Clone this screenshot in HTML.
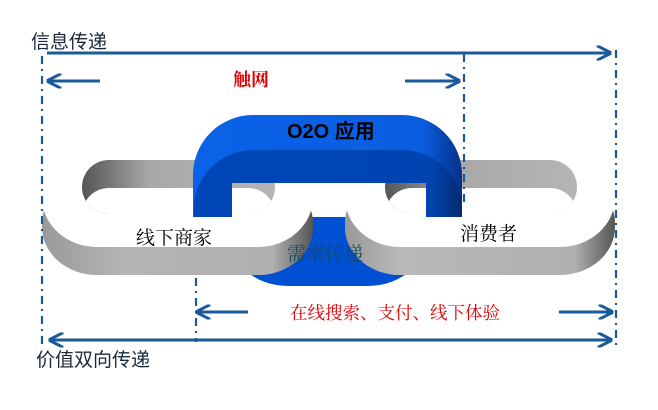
<!DOCTYPE html>
<html><head><meta charset="utf-8"><style>
html,body{margin:0;padding:0;background:#fff;}
svg{display:block;}
text{font-family:"Liberation Sans","Noto Sans CJK SC",sans-serif;}
.s{font-family:"Liberation Serif","Noto Serif CJK SC",serif;}
</style></head><body>
<svg width="658" height="410" viewBox="0 0 658 410" xmlns="http://www.w3.org/2000/svg">
<defs>
<marker id="ah" viewBox="0 0 10 10" refX="9" refY="5" markerWidth="5" markerHeight="5" orient="auto-start-reverse">
<path d="M0,0 L10,5 L0,10" fill="none" stroke="#1a5a9a" stroke-width="2"/>
</marker>
<linearGradient id="wallL" x1="0" y1="0" x2="1" y2="0">
<stop offset="0" stop-color="#9a9a9a"/><stop offset="0.3" stop-color="#b4b4b4"/><stop offset="0.85" stop-color="#b0b0b0"/><stop offset="1" stop-color="#555"/>
</linearGradient>
<linearGradient id="wallR" x1="0" y1="0" x2="1" y2="0">
<stop offset="0" stop-color="#999"/><stop offset="0.2" stop-color="#b8b8b8"/><stop offset="0.85" stop-color="#b0b0b0"/><stop offset="1" stop-color="#555"/>
</linearGradient>
<linearGradient id="hole" x1="0" y1="0" x2="1" y2="0">
<stop offset="0" stop-color="#555"/><stop offset="0.35" stop-color="#a8a8a8"/><stop offset="1" stop-color="#b5b5b5"/>
</linearGradient>
<linearGradient id="blueA" x1="0" y1="0" x2="1" y2="0">
<stop offset="0" stop-color="#0a62e8"/><stop offset="0.85" stop-color="#0a5ee0"/><stop offset="1" stop-color="#06308a"/>
</linearGradient>
<linearGradient id="blueD" x1="0" y1="0" x2="1" y2="0">
<stop offset="0" stop-color="#0046b8"/><stop offset="0.88" stop-color="#0044b2"/><stop offset="1" stop-color="#062a70"/>
</linearGradient>
<clipPath id="hL"><rect x="82" y="160" width="193" height="54" rx="27"/></clipPath>
<clipPath id="hR"><rect x="385" y="160" width="192" height="54" rx="27"/></clipPath>
<clipPath id="endL"><rect x="232" y="183" width="120" height="120"/></clipPath>
<clipPath id="endR"><rect x="300" y="183" width="126" height="120"/></clipPath>
<g id="linkL">
<rect x="42" y="175" width="271" height="100" rx="55" ry="48" fill="url(#wallL)"/>
<rect x="42" y="148" width="271" height="99" rx="55" ry="50" fill="#fff"/>
<rect x="82" y="160" width="193" height="54" rx="27" fill="url(#hole)"/>
<rect x="82" y="188" width="193" height="54" rx="27" fill="#fff" clip-path="url(#hL)"/>
</g>
<g id="linkR">
<rect x="345" y="175" width="270" height="100" rx="55" ry="48" fill="url(#wallR)"/>
<rect x="345" y="148" width="270" height="99" rx="55" ry="50" fill="#fff"/>
<rect x="385" y="160" width="192" height="54" rx="27" fill="url(#hole)"/>
<rect x="385" y="188" width="192" height="54" rx="27" fill="#fff" clip-path="url(#hR)"/>
</g>
</defs>

<path d="M226,200 H430 V230 A62 56 0 0 1 368,286 H288 A62 56 0 0 1 226,230 Z" fill="#0050d4"/>
<use href="#linkL"/>
<use href="#linkR"/>
<path d="M193,217 V175 A60 60 0 0 1 253,115 H402 A60 60 0 0 1 462,175 V217 Z" fill="url(#blueA)"/>
<path d="M194,217 V208 A60 58 0 0 1 254,150 H402 A60 58 0 0 1 462,208 V217 Z" fill="url(#blueD)"/>
<path d="M232,217 V212 A30 29 0 0 1 262,183 H393 A30 29 0 0 1 423,212 V217 Z" fill="#fff"/>
<rect x="313" y="217" width="32" height="10" fill="#0050d4"/>
<use href="#linkL" clip-path="url(#endL)"/>
<use href="#linkR" clip-path="url(#endR)"/>

<g stroke="#1a5a9a" stroke-width="2.2" stroke-dasharray="8,5,2,5" fill="none">
<line x1="42" y1="56" x2="42" y2="344"/>
<line x1="464" y1="54" x2="464" y2="205"/>
<line x1="616" y1="50" x2="616" y2="346"/>
<line x1="196" y1="278" x2="196" y2="342"/>
</g>
<g stroke="#1a5a9a" stroke-width="3" fill="none">
<line x1="47" y1="53" x2="610" y2="53" marker-end="url(#ah)"/>
<line x1="100" y1="81" x2="48" y2="81" marker-end="url(#ah)"/>
<line x1="405" y1="81" x2="459" y2="81" marker-end="url(#ah)"/>
<line x1="248" y1="312" x2="197" y2="312" marker-end="url(#ah)"/>
<line x1="559" y1="312" x2="612" y2="312" marker-end="url(#ah)"/>
<line x1="50" y1="340" x2="611" y2="340" marker-start="url(#ah)" marker-end="url(#ah)"/>
</g>

<text x="31" y="48" font-size="19" fill="#1a2a3a">信息传递</text>
<text x="233" y="86" font-size="18" font-weight="bold" fill="#e00000" class="s">触网</text>
<text x="287" y="138" font-size="20" font-weight="bold" fill="#000">O2O 应用</text>
<text x="136" y="244" font-size="19" fill="#000" class="s">线下商家</text>
<text x="460" y="240" font-size="19" fill="#000" class="s">消费者</text>
<text x="287" y="260" font-size="19" fill="#174a60" class="s">需求传递</text>
<text x="290" y="319" font-size="17.5" fill="#e00000" class="s">在线搜索、支付、线下体验</text>
<text x="36" y="366" font-size="19" fill="#1a2a3a">价值双向传递</text>
</svg>
</body></html>
